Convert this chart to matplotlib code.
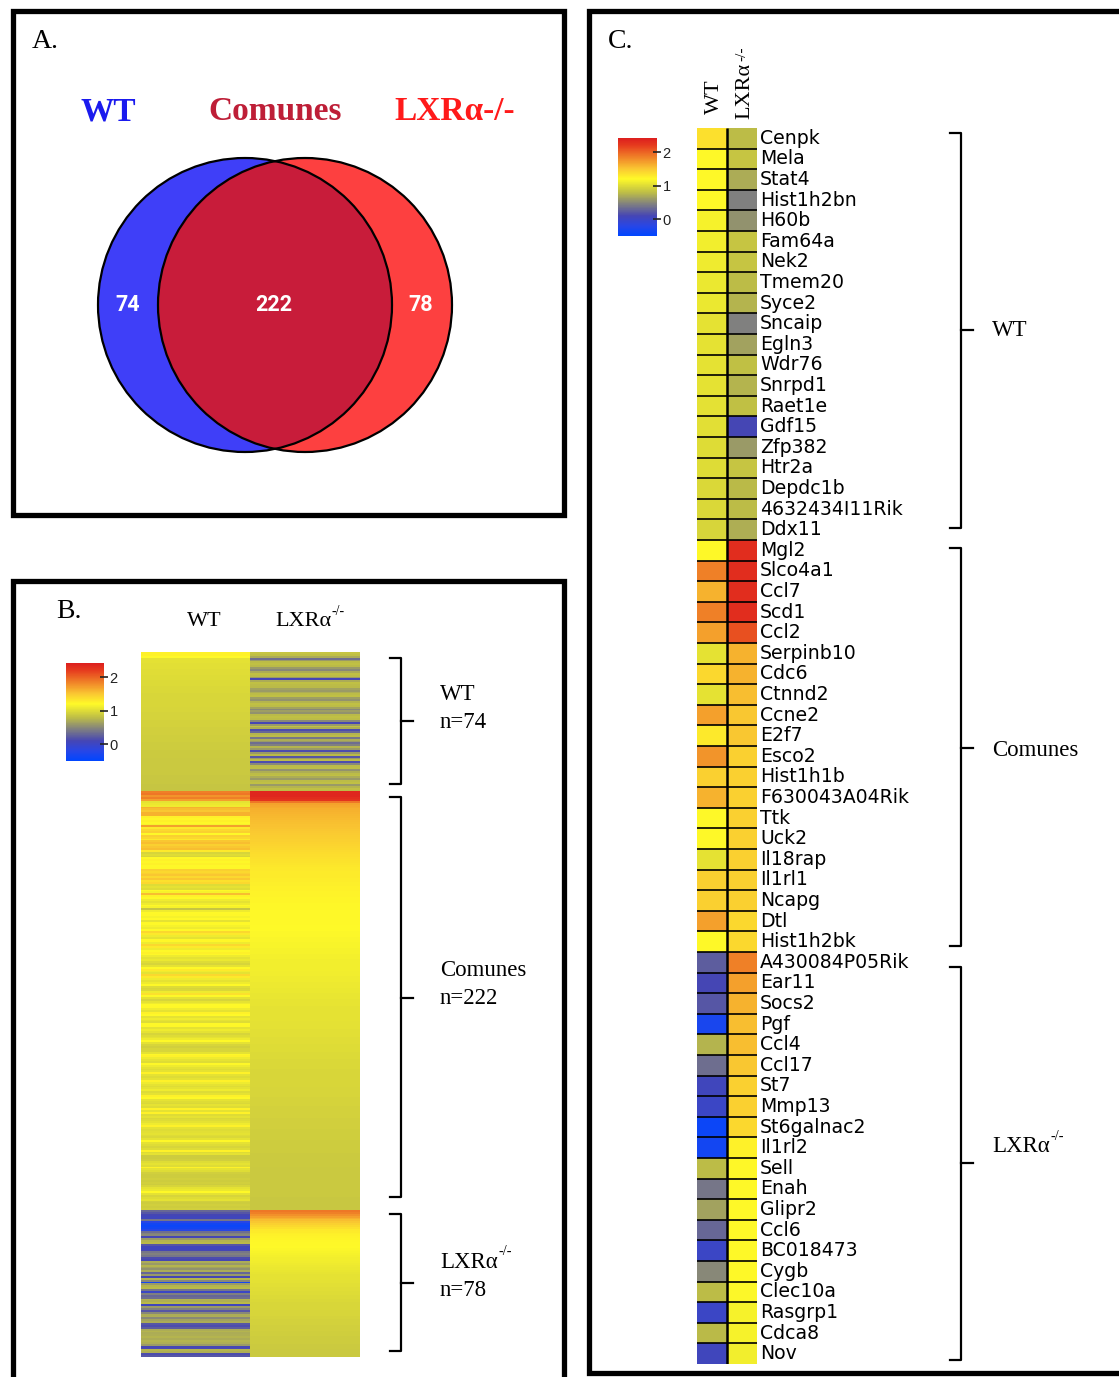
import numpy as np
import matplotlib
matplotlib.use('Agg')
import matplotlib.pyplot as plt
from matplotlib.colors import LinearSegmentedColormap, Normalize
from matplotlib.patches import Circle, Rectangle
from matplotlib.cm import ScalarMappable

W, H = 1119, 1377
SERIF = 'Liberation Serif'

# ---- A: venn ----
venn_counts = [74, 222, 78]   # WT only, comunes, LXR only

# ---- B: all genes, per group (WT column, LXR column) ----
b_wtgrp_wt = [1.25, 1.25, 1.2, 1.04, 1.03, 1.03, 1.02, 1.02, 1.02, 1.01,
              1.01, 1.01, 1.0, 1.0, 1.0, 0.99, 0.99, 0.99, 0.98, 0.98,
              0.98, 0.98, 0.97, 0.97, 0.97, 0.96, 0.96, 0.96, 0.96, 0.95,
              0.95, 0.95, 0.94, 0.94, 0.94, 0.94, 0.93, 0.93, 0.93, 0.93,
              0.92, 0.92, 0.92, 0.92, 0.91, 0.91, 0.91, 0.91, 0.9, 0.9,
              0.9, 0.9, 0.89, 0.89, 0.89, 0.89, 0.88, 0.88, 0.88, 0.88,
              0.87, 0.87, 0.87, 0.87, 0.87, 0.86, 0.86, 0.86, 0.86, 0.86,
              0.85, 0.85, 0.85, 0.85]
b_wtgrp_lxr = [0.85, 0.82, 0.7, 0.35, 0.6, 0.8, 0.82, 0.78, 0.6, 0.5,
               0.7, 0.82, 0.8, 0.6, 0.1, 0.7, 0.82, 0.8, 0.78, 0.65,
               0.6, 0.72, 0.8, 0.82, 0.62, 0.55, 0.75, 0.82, 0.8, 0.65,
               0.5, 0.62, 0.55, 0.78, 0.82, 0.8, 0.5, 0.1, 0.6, 0.82,
               0.7, 0.15, 0.3, 0.75, 0.8, 0.4, 0.7, 0.6, 0.35, 0.45,
               0.75, 0.6, 0.15, 0.6, 0.78, 0.2, 0.6, 0.78, 0.15, 0.5,
               0.78, 0.8, 0.55, 0.72, 0.8, 0.82, 0.7, 0.6, 0.8, 0.82,
               0.6, 0.75, 0.82, 0.8]
b_comgrp_wt = [1.85, 1.9, 1.75, 1.85, 1.7, 1.05, 1.08, 1.1, 1.6, 1.55,
               1.5, 1.6, 1.6, 1.25, 1.22, 1.25, 1.2, 1.15, 1.7, 1.3,
               1.4, 1.45, 1.2, 1.45, 1.4, 1.3, 1.5, 1.55, 1.45, 1.5,
               1.55, 1.3, 0.95, 1.0, 0.95, 1.2, 1.25, 1.22, 1.25, 1.2,
               1.22, 1.45, 1.4, 1.45, 1.5, 1.4, 1.5, 1.35, 1.4, 1.0,
               1.05, 1.0, 1.2, 1.15, 1.55, 1.25, 1.2, 1.1, 1.05, 1.1,
               1.2, 1.15, 0.85, 1.1, 1.2, 1.22, 1.15, 1.2, 1.05, 1.22,
               1.2, 1.15, 1.1, 1.2, 1.4, 1.3, 1.1, 1.05, 1.2, 1.22,
               1.1, 1.4, 1.3, 1.1, 1.2, 1.25, 1.22, 1.1, 1.05, 1.08,
               1.0, 0.95, 1.05, 1.2, 1.3, 1.1, 1.05, 1.4, 1.3, 1.1,
               1.05, 1.1, 1.2, 1.0, 0.95, 0.98, 1.1, 1.35, 1.2, 1.05,
               0.95, 1.05, 1.1, 1.2, 1.22, 1.1, 1.05, 1.25, 1.2, 1.05,
               1.1, 1.05, 1.0, 1.2, 1.22, 1.05, 1.1, 1.05, 0.95, 1.0,
               1.05, 1.1, 1.2, 1.05, 0.95, 0.92, 0.95, 0.95, 1.05, 1.22,
               1.25, 1.1, 1.05, 1.0, 1.22, 1.1, 1.05, 1.0, 1.05, 1.25,
               1.05, 1.0, 1.05, 1.25, 1.1, 1.05, 1.0, 1.05, 1.1, 1.0,
               1.05, 1.25, 1.2, 1.05, 1.0, 0.98, 1.05, 1.0, 1.25, 1.05,
               1.25, 1.0, 1.05, 0.98, 1.0, 1.05, 1.1, 1.25, 1.05, 1.0,
               1.02, 1.05, 1.0, 0.98, 1.05, 1.22, 1.05, 1.0, 0.95, 1.0,
               1.25, 1.0, 1.05, 0.9, 0.9, 0.92, 1.0, 1.05, 1.0, 1.25,
               1.05, 1.0, 0.92, 0.9, 0.9, 0.92, 0.9, 0.92, 0.9, 0.95,
               1.05, 1.08, 1.2, 1.05, 0.95, 1.0, 1.05, 0.92, 0.9, 0.92,
               0.9, 0.92]
b_comgrp_lxr = [2.35, 2.35, 2.35, 2.3, 2.25, 1.9, 1.68, 1.66, 1.64, 1.62,
                1.6, 1.59, 1.58, 1.57, 1.56, 1.55, 1.54, 1.53, 1.52, 1.51,
                1.5, 1.49, 1.48, 1.47, 1.46, 1.45, 1.44, 1.43, 1.42, 1.41,
                1.4, 1.39, 1.38, 1.37, 1.36, 1.35, 1.34, 1.33, 1.32, 1.31,
                1.3, 1.3, 1.29, 1.29, 1.28, 1.28, 1.27, 1.27, 1.26, 1.26,
                1.25, 1.25, 1.25, 1.24, 1.24, 1.24, 1.23, 1.23, 1.23, 1.22,
                1.22, 1.22, 1.22, 1.21, 1.21, 1.21, 1.21, 1.2, 1.2, 1.2,
                1.2, 1.19, 1.19, 1.19, 1.18, 1.18, 1.18, 1.17, 1.17, 1.17,
                1.16, 1.16, 1.16, 1.15, 1.15, 1.15, 1.14, 1.14, 1.14, 1.13,
                1.13, 1.13, 1.12, 1.12, 1.12, 1.11, 1.11, 1.11, 1.1, 1.1,
                1.1, 1.09, 1.09, 1.09, 1.08, 1.08, 1.08, 1.07, 1.07, 1.07,
                1.06, 1.06, 1.06, 1.06, 1.05, 1.05, 1.05, 1.05, 1.04, 1.04,
                1.04, 1.04, 1.03, 1.03, 1.03, 1.03, 1.02, 1.02, 1.02, 1.02,
                1.01, 1.01, 1.01, 1.01, 1.0, 1.0, 1.0, 1.0, 0.99, 0.99,
                0.99, 0.99, 0.98, 0.98, 0.98, 0.98, 0.98, 0.97, 0.97, 0.97,
                0.97, 0.97, 0.96, 0.96, 0.96, 0.96, 0.96, 0.95, 0.95, 0.95,
                0.95, 0.95, 0.94, 0.94, 0.94, 0.94, 0.94, 0.93, 0.93, 0.93,
                0.93, 0.93, 0.93, 0.92, 0.92, 0.92, 0.92, 0.92, 0.92, 0.91,
                0.91, 0.91, 0.91, 0.91, 0.91, 0.9, 0.9, 0.9, 0.9, 0.9,
                0.9, 0.9, 0.89, 0.89, 0.89, 0.89, 0.89, 0.89, 0.89, 0.88,
                0.88, 0.88, 0.88, 0.88, 0.88, 0.88, 0.88, 0.87, 0.87, 0.87,
                0.87, 0.87, 0.87, 0.87, 0.87, 0.86, 0.86, 0.86, 0.86, 0.86,
                0.86, 0.86]
b_lxrgrp_wt = [0.3, 0.2, 0.1, 0.05, 0.05, 0.4, -0.2, -0.35, -0.4, -0.35,
               -0.2, 0.35, 0.45, 0.5, 0.1, 0.6, 0.75, 0.78, 0.2, 0.05,
               0.05, 0.1, 0.4, 0.45, 0.4, 0.15, 0.1, 0.7, 0.6, 0.75,
               0.65, 0.55, 0.7, 0.3, 0.6, 0.1, 0.75, 0.5, -0.35, 0.6,
               0.75, 0.78, 0.4, 0.0, 0.45, 0.3, 0.35, 0.75, 0.72, 0.78,
               0.05, 0.6, 0.45, 0.2, 0.5, 0.7, 0.72, 0.5, 0.65, 0.7,
               0.2, 0.15, 0.25, 0.7, 0.75, 0.7, 0.72, 0.75, 0.7, 0.75,
               0.72, 0.6, 0.1, 0.12, 0.75, 0.72, 0.15, 0.2]
b_lxrgrp_lxr = [1.9, 1.85, 1.78, 1.7, 1.62, 1.55, 1.5, 1.45, 1.4, 1.35,
                1.3, 1.28, 1.26, 1.25, 1.24, 1.23, 1.22, 1.21, 1.2, 1.19,
                1.18, 1.17, 1.16, 1.15, 1.14, 1.13, 1.12, 1.11, 1.1, 1.09,
                1.08, 1.08, 1.07, 1.06, 1.05, 1.05, 1.04, 1.03, 1.03, 1.02,
                1.02, 1.01, 1.01, 1.0, 1.0, 0.99, 0.99, 0.98, 0.98, 0.97,
                0.97, 0.96, 0.96, 0.95, 0.95, 0.95, 0.94, 0.94, 0.93, 0.93,
                0.93, 0.92, 0.92, 0.92, 0.91, 0.91, 0.91, 0.9, 0.9, 0.9,
                0.9, 0.89, 0.89, 0.89, 0.88, 0.88, 0.88, 0.88]

# ---- C: selected genes ----
genes_wt = ['Cenpk', 'Mela', 'Stat4', 'Hist1h2bn', 'H60b', 'Fam64a', 'Nek2',
            'Tmem20', 'Syce2', 'Sncaip', 'Egln3', 'Wdr76', 'Snrpd1', 'Raet1e',
            'Gdf15', 'Zfp382', 'Htr2a', 'Depdc1b', '4632434I11Rik', 'Ddx11']
genes_com = ['Mgl2', 'Slco4a1', 'Ccl7', 'Scd1', 'Ccl2', 'Serpinb10', 'Cdc6',
             'Ctnnd2', 'Ccne2', 'E2f7', 'Esco2', 'Hist1h1b', 'F630043A04Rik',
             'Ttk', 'Uck2', 'Il18rap', 'Il1rl1', 'Ncapg', 'Dtl', 'Hist1h2bk']
genes_lxr = ['A430084P05Rik', 'Ear11', 'Socs2', 'Pgf', 'Ccl4', 'Ccl17', 'St7',
             'Mmp13', 'St6galnac2', 'Il1rl2', 'Sell', 'Enah', 'Glipr2', 'Ccl6',
             'BC018473', 'Cygb', 'Clec10a', 'Rasgrp1', 'Cdca8', 'Nov']
c_wt = [1.35, 1.2, 1.2, 1.2, 1.15, 1.12, 1.1, 1.08, 1.08, 1.05,
        1.05, 1.05, 1.05, 1.03, 1.02, 1.0, 1.0, 0.98, 0.98, 0.95,
        1.2, 1.85, 1.6, 1.85, 1.7, 1.05, 1.4, 1.05, 1.7, 1.3,
        1.75, 1.45, 1.6, 1.2, 1.2, 1.05, 1.45, 1.45, 1.7, 1.2,
        0.25, 0.1, 0.2, -0.3, 0.75, 0.35, 0.05, 0.0, -0.4, -0.35,
        0.8, 0.4, 0.65, 0.3, 0.0, 0.5, 0.8, 0.0, 0.78, 0.05]
c_lxr = [0.8, 0.85, 0.7, 0.45, 0.55, 0.85, 0.85, 0.8, 0.75, 0.45,
         0.65, 0.82, 0.75, 0.82, 0.1, 0.6, 0.85, 0.78, 0.8, 0.72,
         2.3, 2.3, 2.3, 2.3, 2.1, 1.6, 1.6, 1.55, 1.5, 1.5,
         1.45, 1.45, 1.45, 1.45, 1.45, 1.45, 1.45, 1.45, 1.4, 1.4,
         1.85, 1.7, 1.6, 1.55, 1.55, 1.5, 1.45, 1.45, 1.4, 1.25,
         1.22, 1.2, 1.2, 1.2, 1.2, 1.2, 1.18, 1.15, 1.15, 1.12]

# colour scale shared by both heatmaps
VMIN, VMAX = -0.5, 2.42
scale_vals = [-0.5, -0.2, 0.1, 0.45, 0.8, 1.2, 1.5, 1.85, 2.2, 2.42]
scale_cols = ['#0046ff', '#2846e6', '#4646b4', '#808080', '#bebe46',
              '#fffa28', '#fac832', '#f08228', '#e63c1e', '#dc1e1e']
cmap = LinearSegmentedColormap.from_list(
    'expr', [((v - VMIN) / (VMAX - VMIN), c) for v, c in zip(scale_vals, scale_cols)])
norm = Normalize(VMIN, VMAX)

fig = plt.figure(figsize=(W / 100, H / 100), dpi=100)
fig.patch.set_facecolor('white')


def px_axes(x0, y0, x1, y1):
    return fig.add_axes([x0 / W, 1 - y1 / H, (x1 - x0) / W, (y1 - y0) / H])


def sup_label(ax, x, y, base, sup, size, **kw):
    t = ax.text(x, y, base, fontsize=size, family=SERIF, **kw)
    ax.annotate(sup, xy=(1, 0.95), xycoords=t, xytext=(0.5, 1), textcoords='offset points',
                fontsize=size * 0.62, family=SERIF, ha='left', va='center')
    return t


def bracket(ax, vx, top, bottom, mid, hook=11, tick=12):
    ax.plot([vx - hook, vx, vx, vx - hook], [top, top, bottom, bottom],
            color='black', lw=1.6, solid_joinstyle='round')
    ax.plot([vx, vx + tick], [mid, mid], color='black', lw=1.6)


def colorbar(x0, y0, x1, y1):
    cax = px_axes(x0, y0, x1, y1)
    cb = fig.colorbar(ScalarMappable(norm=norm, cmap=cmap), cax=cax, ticks=[0, 1, 2])
    cb.outline.set_visible(False)
    cax.tick_params(direction='inout', length=6, width=1.2, colors='#222222',
                    labelsize=10.5, pad=1)
    for lb in cax.get_yticklabels():
        lb.set_family('Liberation Sans')
    return cb


# overlay in pixel coordinates for frames, texts and brackets
ov = fig.add_axes([0, 0, 1, 1])
ov.set_xlim(0, W)
ov.set_ylim(H, 0)
ov.axis('off')

frame = dict(color='black', lw=3.8, solid_joinstyle='miter', solid_capstyle='projecting')
ov.add_patch(Rectangle((12.5, 11), 551, 504, fill=False, ec='black', lw=3.8, joinstyle='miter'))
ov.plot([12.5, 12.5, 563.5, 563.5], [1400, 580.5, 580.5, 1400], **frame)
ov.plot([1130, 589, 589, 1130], [11, 11, 1373, 1373], **frame)

ov.text(32, 41, 'A.', fontsize=20, family=SERIF, va='center', ha='left')
ov.text(56, 611, 'B.', fontsize=20, family=SERIF, va='center', ha='left')
ov.text(608, 41, 'C.', fontsize=20, family=SERIF, va='center', ha='left')

# ---- A: venn diagram ----
ov.text(108, 112, 'WT', fontsize=24, family=SERIF, weight='bold', color='#1a1aee',
        ha='center', va='center')
ov.text(275, 112, 'Comunes', fontsize=24, family=SERIF, weight='bold', color='#be1e37',
        ha='center', va='center')
ov.text(455, 112, 'LXRα-/-', fontsize=24, family=SERIF, weight='bold', color='#ff1a1a',
        ha='center', va='center')

r = 147
left_c = Circle((245, 305), r, fc='#3f3ff8', ec='none')
right_c = Circle((305, 305), r, fc='#fd4040', ec='none')
ov.add_patch(left_c)
ov.add_patch(right_c)
inter = Circle((245, 305), r, fc='#c81c3a', ec='none')
ov.add_patch(inter)
inter.set_clip_path(right_c)
for cx in (245, 305):
    ov.add_patch(Circle((cx, 305), r, fill=False, ec='black', lw=1.6))
for x, n in zip([128, 274, 421], venn_counts):
    ov.text(x, 305, str(n), fontsize=15.5, family='Roboto', weight='bold', color='white',
            ha='center', va='center')

# ---- B: full heatmap ----
b_wt = b_wtgrp_wt + b_comgrp_wt + b_lxrgrp_wt
b_lxr = b_wtgrp_lxr + b_comgrp_lxr + b_lxrgrp_lxr
b_mat = np.column_stack([b_wt, b_lxr])
axb = px_axes(141, 652, 360, 1357)
axb.imshow(b_mat, cmap=cmap, norm=norm, aspect='auto', interpolation='nearest',
           extent=(0, 2, len(b_wt), 0))
axb.axis('off')

ov.text(204, 621, 'WT', fontsize=16, family=SERIF, ha='center', va='center')
sup_label(ov, 275, 621, 'LXRα', '-/-', 16, ha='left', va='center')
colorbar(66, 663, 104, 761)

bracket(ov, 401, 658, 784, 721)
bracket(ov, 401, 797, 1197, 998)
bracket(ov, 401, 1214, 1351, 1283)
ov.text(440, 694, 'WT', fontsize=16.5, family=SERIF, va='center')
ov.text(440, 722, 'n=%d' % len(b_wtgrp_wt), fontsize=16.5, family=SERIF, va='center')
ov.text(440, 971, 'Comunes', fontsize=16.5, family=SERIF, va='center')
ov.text(440, 999, 'n=%d' % len(b_comgrp_wt), fontsize=16.5, family=SERIF, va='center')
sup_label(ov, 440, 1262, 'LXRα', '-/-', 16.5, va='center')
ov.text(440, 1290, 'n=%d' % len(b_lxrgrp_wt), fontsize=16.5, family=SERIF, va='center')

# ---- C: selected genes heatmap ----
genes = genes_wt + genes_com + genes_lxr
n = len(genes)
c_mat = np.column_stack([c_wt, c_lxr])
axc = px_axes(697, 128, 757, 1364)
axc.imshow(c_mat, cmap=cmap, norm=norm, aspect='auto', interpolation='nearest',
           extent=(0, 2, n, 0))
axc.hlines(np.arange(1, n), 0, 2, color='black', lw=1.2)
axc.vlines(1, 0, n, color='black', lw=1.8)
axc.set_xlim(0, 2)
axc.set_ylim(n, 0)
axc.axis('off')
for i, g in enumerate(genes):
    axc.text(2.1, i + 0.5, g, fontsize=13.6, family='DejaVu Sans', va='center', ha='left',
             clip_on=False)

ov.text(714, 114, 'WT', fontsize=16, family=SERIF, rotation=90, ha='center', va='bottom')
t = ov.text(745, 119, 'LXRα', fontsize=16, family=SERIF, rotation=90, ha='center', va='bottom')
ov.annotate('-/-', xy=(0.35, 1), xycoords=t, xytext=(0, 1), textcoords='offset points',
            fontsize=11, family=SERIF, rotation=90, ha='center', va='bottom')
colorbar(618, 138, 657, 236)

bracket(ov, 961, 133, 528, 330)
bracket(ov, 961, 548, 946, 748)
bracket(ov, 961, 967, 1360, 1163)
ov.text(992, 330, 'WT', fontsize=16.5, family=SERIF, va='center')
ov.text(992, 750, 'Comunes', fontsize=16.5, family=SERIF, va='center')
sup_label(ov, 992, 1147, 'LXRα', '-/-', 16.5, va='center')

fig.savefig('out.png', dpi=100, facecolor='white')
